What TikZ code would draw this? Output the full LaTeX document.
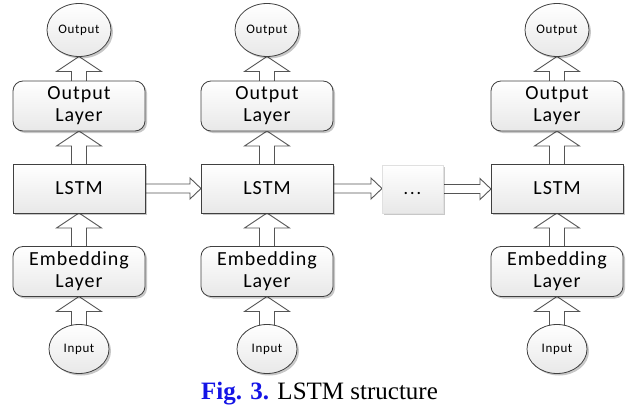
\documentclass[tikz,border=0pt]{standalone}
\usepackage{fontspec}
\setmainfont{Liberation Serif}
\newfontfamily\calfont[LetterSpace=5]{Carlito}
\usetikzlibrary{shadows,calc,shapes.geometric}
\definecolor{bord}{HTML}{404040}
\definecolor{arrc}{HTML}{555555}
\definecolor{capblue}{HTML}{1414E6}
\pgfdeclarelayer{bg}
\pgfsetlayers{bg,main}
\tikzset{
  basebox/.style={draw=bord, line width=0.8pt, top color=white, bottom color=black!9,
    inner sep=0pt, outer sep=0pt, align=center, text=black,
    drop shadow={shadow xshift=2pt, shadow yshift=-2pt, opacity=0.22, fill=black}},
  layerbox/.style={basebox, rounded corners=10pt, minimum width=132pt, minimum height=50pt,
    font=\calfont\fontsize{20}{22}\selectfont},
  lstmbox/.style={basebox, minimum width=132pt, minimum height=49pt,
    font=\calfont\fontsize{20}{22}\selectfont},
  ovalbox/.style={basebox, ellipse, font=\calfont\fontsize{13}{15}\selectfont},
  dotsbox/.style={basebox, draw=black!12, minimum width=61pt, minimum height=48pt,
    text height=0pt, text depth=0pt,
    font=\calfont\bfseries\fontsize{15}{16}\selectfont},
  blockarr/.style={draw=arrc, line width=0.9pt, fill=white, line join=miter},
}
\newcommand\uparr[2]{%
  \draw[blockarr] let \p1=(#1.north), \p2=(#2.south) in
    (\x1-7.5pt,\y1-3pt) -- (\x1-7.5pt,\y2-15pt) -- (\x1-22.5pt,\y2-15pt) -- (\x1,\y2)
    -- (\x1+22.5pt,\y2-15pt) -- (\x1+7.5pt,\y2-15pt) -- (\x1+7.5pt,\y1-3pt) -- cycle;}
\newcommand\rarr[2]{%
  \draw[blockarr] let \p1=(#1.east), \p2=(#2.west) in
    (\x1-2pt,\y1+4.5pt) -- (\x2-11pt,\y1+4.5pt) -- (\x2-11pt,\y1+10.5pt) -- (\x2,\y1)
    -- (\x2-11pt,\y1-10.5pt) -- (\x2-11pt,\y1-4.5pt) -- (\x1-2pt,\y1-4.5pt) -- cycle;}
\begin{document}
\begin{tikzpicture}[x=1pt,y=-1pt]
\useasboundingbox (0,0) rectangle (638,415);
% column 1
\node[ovalbox, minimum width=64pt, minimum height=53pt] (out1) at (79,30) {Output};
\node[layerbox] (ol1) at (79,106) {Output\\Layer};
\node[lstmbox] (lstm1) at (79,188.5) {LSTM};
\node[layerbox] (emb1) at (79,271.5) {Embedding\\Layer};
\node[ovalbox, minimum width=60pt, minimum height=49pt] (in1) at (79,349) {Input};
% column 2
\node[ovalbox, minimum width=64pt, minimum height=53pt] (out2) at (267,30) {Output};
\node[layerbox] (ol2) at (267,106) {Output\\Layer};
\node[lstmbox] (lstm2) at (267,188.5) {LSTM};
\node[layerbox] (emb2) at (267,271.5) {Embedding\\Layer};
\node[ovalbox, minimum width=60pt, minimum height=49pt] (in2) at (267,349) {Input};
% dots
\node[dotsbox] (dots) at (412.5,189) {\raisebox{-5pt}{.\,.\,.}};
% column 3
\node[ovalbox, minimum width=64pt, minimum height=53pt] (out3) at (557,30) {Output};
\node[layerbox] (ol3) at (557,106) {Output\\Layer};
\node[lstmbox] (lstm3) at (557,188.5) {LSTM};
\node[layerbox] (emb3) at (557,271.5) {Embedding\\Layer};
\node[ovalbox, minimum width=60pt, minimum height=49pt] (in3) at (557,349) {Input};
% arrows
\begin{pgfonlayer}{bg}
\foreach \c in {1,2,3}{
  \uparr{in\c}{emb\c}
  \uparr{emb\c}{lstm\c}
  \uparr{lstm\c}{ol\c}
  \uparr{ol\c}{out\c}
}
\rarr{lstm1}{lstm2}
\rarr{lstm2}{dots}
\rarr{dots}{lstm3}
\end{pgfonlayer}
% caption
\node[anchor=base, font=\fontsize{25}{28}\selectfont, inner sep=0pt] (cap) at (319.5,399)
  {\textcolor{capblue}{\textbf{Fig. 3.}} LSTM structure};
\end{tikzpicture}
\end{document}
